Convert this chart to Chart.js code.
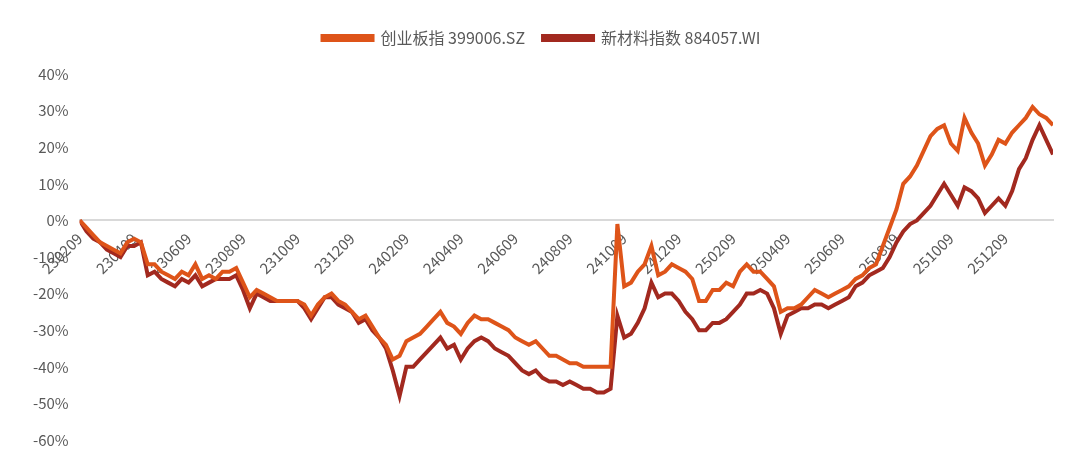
<!DOCTYPE html>
<html><head><meta charset="utf-8">
<script src="https://cdn.jsdelivr.net/npm/chart.js@4/dist/chart.umd.min.js"></script>
<style>html,body{margin:0;background:#fff}#w{width:1080px;height:468px}</style>
</head><body><div id="w"><canvas id="c"></canvas></div>
<script>
const tickLabels = ["230209","230409","230609","230809","231009","231209","240209","240409","240609","240809","241009","241209","250209","250409","250609","250809","251009","251209"];
const seriesNames = ["创业板指 399006.SZ","新材料指数 884057.WI"];
const chinext = [0,-2,-4,-6,-7,-8,-9,-6,-5,-6,-12,-12,-14,-15,-16,-14,-15,-12,-16,-15,-16,-14,-14,-13,-17,-21,-19,-20,-21,-22,-22,-22,-22,-23,-26,-23,-21,-20,-22,-23,-25,-27,-26,-29,-32,-34,-38,-37,-33,-32,-31,-29,-27,-25,-28,-29,-31,-28,-26,-27,-27,-28,-29,-30,-32,-33,-34,-33,-35,-37,-37,-38,-39,-39,-40,-40,-40,-40,-40,-1,-18,-17,-14,-12,-7,-15,-14,-12,-13,-14,-16,-22,-22,-19,-19,-17,-18,-14,-12,-14,-14,-16,-18,-25,-24,-24,-23,-21,-19,-20,-21,-20,-19,-18,-16,-15,-13,-12,-7,-2,3,10,12,15,19,23,25,26,21,19,28,24,21,15,18,22,21,24,26,28,31,29,28,26];
const newmat = [0,-3,-5,-6,-8,-9,-10,-7,-7,-6,-15,-14,-16,-17,-18,-16,-17,-15,-18,-17,-16,-16,-16,-15,-19,-24,-20,-21,-22,-22,-22,-22,-22,-24,-27,-24,-21,-21,-23,-24,-25,-28,-27,-30,-32,-35,-41,-48,-40,-40,-38,-36,-34,-32,-35,-34,-38,-35,-33,-32,-33,-35,-36,-37,-39,-41,-42,-41,-43,-44,-44,-45,-44,-45,-46,-46,-47,-47,-46,-26,-32,-31,-28,-24,-17,-21,-20,-20,-22,-25,-27,-30,-30,-28,-28,-27,-25,-23,-20,-20,-19,-20,-24,-31,-26,-25,-24,-24,-23,-23,-24,-23,-22,-21,-18,-17,-15,-14,-13,-10,-6,-3,-1,0,2,4,7,10,7,4,9,8,6,2,4,6,4,8,14,17,22,26,22,18];
const perLabel = 8;
const toXY = arr => arr.map((v,i)=>({x:i,y:v}));
new Chart(document.getElementById('c'),{
  type:'line',
  data:{datasets:[
    {label:seriesNames[0],data:toXY(chinext),borderColor:'#DE5419',backgroundColor:'#DE5419',borderWidth:4,pointRadius:0,tension:0},
    {label:seriesNames[1],data:toXY(newmat),borderColor:'#A2291F',backgroundColor:'#A2291F',borderWidth:4,pointRadius:0,tension:0}
  ]},
  options:{
    responsive:true,maintainAspectRatio:false,animation:false,
    layout:{padding:{left:30,right:27,top:12,bottom:28}},
    plugins:{legend:{labels:{boxWidth:50,boxHeight:4,color:'#595959',font:{size:16,family:'"Noto Sans CJK SC"'},padding:18},
      onClick:null},tooltip:{enabled:false}},
    scales:{
      x:{type:'linear',min:0,max:chinext.length-1,position:{y:0},
        grid:{display:false,drawTicks:true,tickLength:6,color:'#d9d9d9'},
        border:{color:'#d9d9d9',width:2},
        ticks:{stepSize:perLabel,includeBounds:false,autoSkip:false,maxRotation:45,minRotation:45,color:'#595959',font:{size:15,family:'"Noto Sans CJK SC"'},
          callback:v=>tickLabels[v/perLabel]??''},
        afterFit:s=>{s.height=0;}},
      y:{min:-60,max:40,grid:{display:false},border:{display:false},
        ticks:{stepSize:10,color:'#595959',font:{size:15,family:'"Noto Sans CJK SC"'},callback:v=>v+'%'}}
    }
  },
  plugins:[{id:'legendGap',beforeInit(chart){const fit=chart.legend.fit;chart.legend.fit=function(){fit.bind(chart.legend)();this.height+=18;};}}]
});
</script></body></html>
